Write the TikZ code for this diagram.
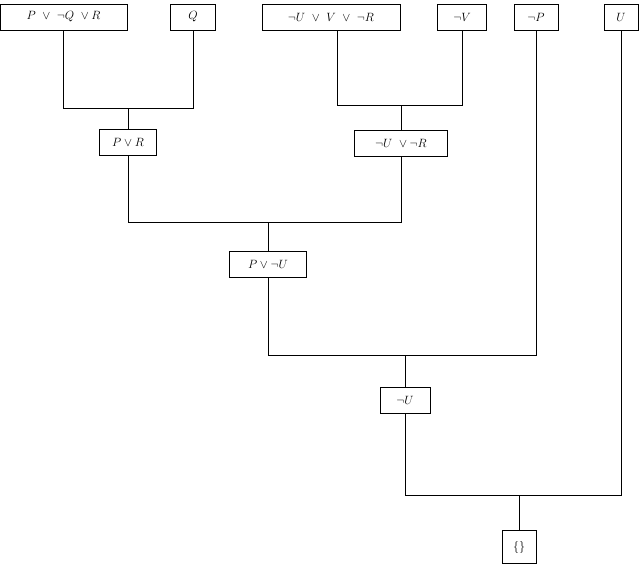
\documentclass[tikz,border=0pt]{standalone}
\begin{document}
\begin{tikzpicture}[x=1pt,y=-1pt,
  cl/.style={draw,thick,inner sep=0pt,minimum height=26pt,font=\large},
  ln/.style={thick}]
\useasboundingbox (0,0) rectangle (640,565);
\node[cl,minimum width=127pt] (a) at (63.5,17) {$P\ \lor\ \lnot Q\ \lor R$};
\node[cl,minimum width=45pt] (b) at (193,17) {$Q$};
\node[cl,minimum width=138pt] (c) at (331,17) {$\lnot U\ \lor\ V\ \lor\ \lnot R$};
\node[cl,minimum width=49pt] (d) at (462,17) {$\lnot V$};
\node[cl,minimum width=44pt] (e) at (536,17) {$\lnot P$};
\node[cl,minimum width=34pt] (f) at (621,17) {$U$};
\node[cl,minimum width=57pt] (g) at (128,142) {$P\lor R$};
\node[cl,minimum width=93pt] (h) at (401,143) {$\lnot U\ \lor\lnot R$};
\node[cl,minimum width=77pt] (i) at (268,264) {$P\lor\lnot U$};
\node[cl,minimum width=50pt] (j) at (405,400) {$\lnot U$};
\node[cl,minimum width=34pt,minimum height=33pt] (k) at (519,547) {$\{\}$};
\coordinate (y1) at (0,108);
\coordinate (y2) at (0,105);
\coordinate (y3) at (0,222);
\coordinate (y4) at (0,355);
\coordinate (y5) at (0,495);
\draw[ln] (a.south) |- (b.south|-y1) -- (b.south);
\draw[ln] (g.north) -- (g.north|-y1);
\draw[ln] ([xshift=6pt]c.south) |- (d.south|-y2) -- (d.south);
\draw[ln] (h.north) -- (h.north|-y2);
\draw[ln] (g.south) |- (h.south|-y3) -- (h.south);
\draw[ln] (i.north) -- (i.north|-y3);
\draw[ln] (i.south) |- (e.south|-y4) -- (e.south);
\draw[ln] (j.north) -- (j.north|-y4);
\draw[ln] (j.south) |- (f.south|-y5) -- (f.south);
\draw[ln] (k.north) -- (k.north|-y5);
\end{tikzpicture}
\end{document}
